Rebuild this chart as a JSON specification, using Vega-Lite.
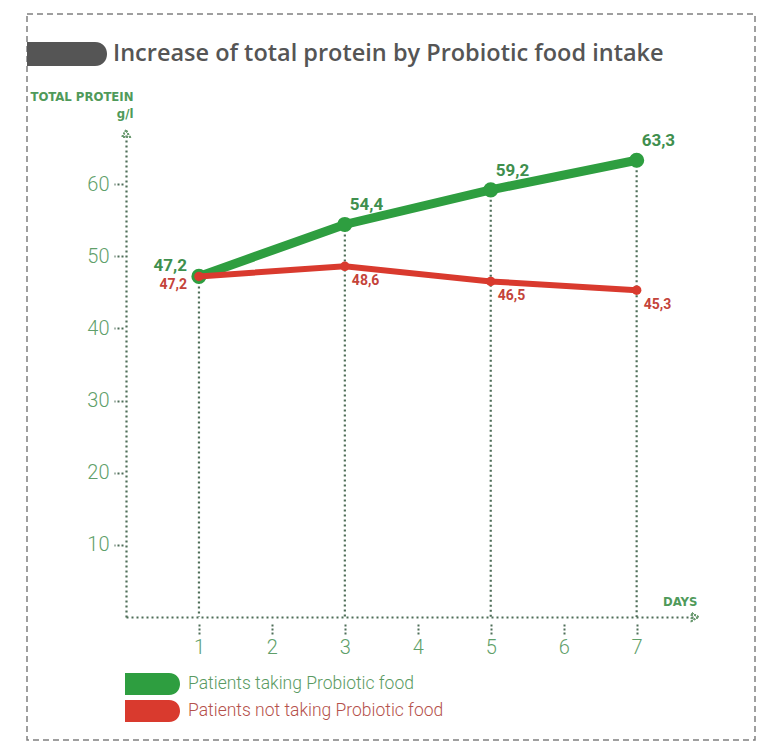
{
  "$schema": "https://vega.github.io/schema/vega-lite/v6.json",
  "width": 728,
  "height": 726,
  "autosize": {"type": "none"},
  "padding": {"left": 27, "top": 14, "right": 6, "bottom": 3},
  "background": "white",
  "config": {
    "view": {"stroke": "#808080", "strokeDash": [6, 4], "strokeWidth": 1.5},
    "locale": {"number": {"decimal": ",", "thousands": ".", "grouping": [3], "currency": ["", " €"]}}
  },
  "data": {
    "values": [
      {"day": 1, "group": "Patients taking Probiotic food", "protein": 47.2},
      {"day": 3, "group": "Patients taking Probiotic food", "protein": 54.4},
      {"day": 5, "group": "Patients taking Probiotic food", "protein": 59.2},
      {"day": 7, "group": "Patients taking Probiotic food", "protein": 63.3},
      {"day": 1, "group": "Patients not taking Probiotic food", "protein": 47.2},
      {"day": 3, "group": "Patients not taking Probiotic food", "protein": 48.6},
      {"day": 5, "group": "Patients not taking Probiotic food", "protein": 46.5},
      {"day": 7, "group": "Patients not taking Probiotic food", "protein": 45.3}
    ]
  },
  "encoding": {
    "x": {
      "field": "day", "type": "quantitative",
      "scale": {"domain": [0, 7.8], "range": [99, 668], "nice": false, "zero": false},
      "axis": {
        "values": [1, 2, 3, 4, 5, 6, 7],
        "offset": -123,
        "grid": false,
        "title": "DAYS",
        "titleX": 670, "titleY": -12, "titleAlign": "right", "titleBaseline": "alphabetic",
        "titleFont": "DejaVu Sans Condensed, Roboto",
        "titleFontSize": 13, "titleFontWeight": "bold", "titleColor": "#4f9a5a",
        "labelFont": "Roboto", "labelFontWeight": 300, "labelFontSize": 20, "labelColor": "#5f9f6a",
        "labelPadding": 2,
        "tickSize": 18, "tickColor": "#4e6e58", "tickWidth": 2, "tickDash": [0, 7, 2, 2, 2, 2, 2, 2],
        "domainColor": "#4e6e58", "domainWidth": 2.2, "domainDash": [2, 3]
      }
    },
    "y": {
      "field": "protein", "type": "quantitative",
      "scale": {"domain": [0, 66.8], "range": [603, 121], "nice": false, "zero": false},
      "axis": {
        "values": [10, 20, 30, 40, 50, 60],
        "offset": -99,
        "grid": false,
        "title": ["TOTAL PROTEIN", "g/l"],
        "titleAngle": 0, "titleX": 7, "titleY": 86, "titleAlign": "right", "titleBaseline": "alphabetic",
        "titleLineHeight": 17,
        "titleFont": "DejaVu Sans Condensed, Roboto",
        "titleFontSize": 13, "titleFontWeight": "bold", "titleColor": "#4f9a5a",
        "labelFont": "Roboto", "labelFontWeight": 300, "labelFontSize": 20, "labelColor": "#5f9f6a",
        "labelPadding": 5,
        "tickSize": 12, "tickColor": "#4e6e58", "tickWidth": 2, "tickDash": [0, 3, 2, 2, 2, 2, 2, 2],
        "domainColor": "#4e6e58", "domainWidth": 2.2, "domainDash": [2, 3]
      }
    }
  },
  "layer": [
    {
      "transform": [{"filter": "datum.group === 'Patients taking Probiotic food'"}],
      "mark": {"type": "rule", "color": "#4e6e58", "strokeWidth": 2.2, "strokeDash": [2, 3]},
      "encoding": {"y2": {"datum": 0}}
    },
    {
      "mark": {"type": "point", "shape": "triangle-up", "filled": false, "size": 60, "stroke": "#6a9a70", "strokeWidth": 1.5, "strokeDash": [1.5, 1.5]},
      "encoding": {"x": {"datum": 0}, "y": {"datum": 67}}
    },
    {
      "mark": {"type": "point", "shape": "triangle-right", "filled": false, "size": 60, "stroke": "#6a9a70", "strokeWidth": 1.5, "strokeDash": [1.5, 1.5]},
      "encoding": {"x": {"datum": 7.8}, "y": {"datum": 0}}
    },
    {
      "mark": {"type": "point", "filled": true, "color": "#555555", "opacity": 0},
      "encoding": {
        "shape": {
          "datum": "Increase of total protein by Probiotic food intake",
          "scale": {"range": ["M-1,-0.3L0.7,-0.3C1.1,-0.3 1.1,0.3 0.7,0.3L-1,0.3Z"]},
          "legend": {
            "title": null, "orient": "none", "legendX": 0, "legendY": 0,
            "symbolSize": 6400, "labelOffset": 6, "labelLimit": 0,
            "symbolFillColor": "#555555", "symbolStrokeColor": "#555555", "symbolStrokeWidth": 0, "symbolOpacity": 1,
            "labelFont": "Open Sans", "labelFontSize": 23.5, "labelFontWeight": 600, "labelColor": "#555555",
            "encode": {"symbols": {"update": {"fill": {"value": "#555555"}, "stroke": {"value": "transparent"}, "strokeWidth": {"value": 0}, "opacity": {"value": 1}}}}
          }
        }
      }
    },
    {
      "transform": [{"filter": "datum.group === 'Patients taking Probiotic food'"}],
      "mark": {"type": "line", "strokeWidth": 9, "strokeCap": "round"},
      "encoding": {
        "color": {
          "field": "group", "type": "nominal",
          "scale": {"domain": ["Patients taking Probiotic food", "Patients not taking Probiotic food"], "range": ["#2e9e40", "#d93a2e"]},
          "legend": {
            "title": null, "orient": "none", "legendX": 98, "legendY": 659,
            "symbolType": "M-1,-0.4L0.6,-0.4C1.133,-0.4 1.133,0.4 0.6,0.4L-1,0.4Z",
            "symbolSize": 3025, "labelOffset": 8, "labelLimit": 0, "rowPadding": 5, "clipHeight": 22,
            "labelFont": "Roboto", "labelFontWeight": 300, "labelFontSize": 17.5,
            "encode": {
              "symbols": {"update": {"fill": {"scale": "color", "field": "value"}, "stroke": {"value": "transparent"}, "strokeWidth": {"value": 0}, "opacity": {"value": 1}}},
              "labels": {"update": {"fill": {"signal": "datum.value === 'Patients taking Probiotic food' ? '#5a9a62' : '#b5514b'"}}}
            }
          }
        }
      }
    },
    {
      "transform": [{"filter": "datum.group === 'Patients taking Probiotic food'"}],
      "mark": {"type": "point", "filled": true, "size": 230, "opacity": 1},
      "encoding": {"color": {"field": "group", "type": "nominal"}}
    },
    {
      "transform": [{"filter": "datum.group === 'Patients not taking Probiotic food'"}],
      "mark": {"type": "line", "strokeWidth": 6, "strokeCap": "round"},
      "encoding": {"color": {"field": "group", "type": "nominal"}}
    },
    {
      "transform": [{"filter": "datum.group === 'Patients not taking Probiotic food'"}],
      "mark": {"type": "point", "filled": true, "size": 90, "opacity": 1},
      "encoding": {"color": {"field": "group", "type": "nominal"}}
    },
    {
      "transform": [{"filter": "datum.group === 'Patients taking Probiotic food' && datum.day === 1"}],
      "mark": {"type": "text", "align": "right", "baseline": "alphabetic", "dx": -12, "dy": -5, "font": "Roboto", "fontWeight": "bold", "fontSize": 17, "color": "#3f8f4e"},
      "encoding": {"text": {"field": "protein", "type": "quantitative", "format": ".1f"}}
    },
    {
      "transform": [{"filter": "datum.group === 'Patients taking Probiotic food' && datum.day > 1"}],
      "mark": {"type": "text", "align": "left", "baseline": "alphabetic", "dx": 5, "dy": -14, "font": "Roboto", "fontWeight": "bold", "fontSize": 17, "color": "#3f8f4e"},
      "encoding": {"text": {"field": "protein", "type": "quantitative", "format": ".1f"}}
    },
    {
      "transform": [{"filter": "datum.group === 'Patients not taking Probiotic food' && datum.day === 1"}],
      "mark": {"type": "text", "align": "right", "baseline": "alphabetic", "dx": -12, "dy": 13, "font": "Roboto", "fontWeight": "bold", "fontSize": 14, "color": "#c4433a"},
      "encoding": {"text": {"field": "protein", "type": "quantitative", "format": ".1f"}}
    },
    {
      "transform": [{"filter": "datum.group === 'Patients not taking Probiotic food' && datum.day > 1"}],
      "mark": {"type": "text", "align": "left", "baseline": "alphabetic", "dx": 7, "dy": 19, "font": "Roboto", "fontWeight": "bold", "fontSize": 14, "color": "#c4433a"},
      "encoding": {"text": {"field": "protein", "type": "quantitative", "format": ".1f"}}
    }
  ]
}
